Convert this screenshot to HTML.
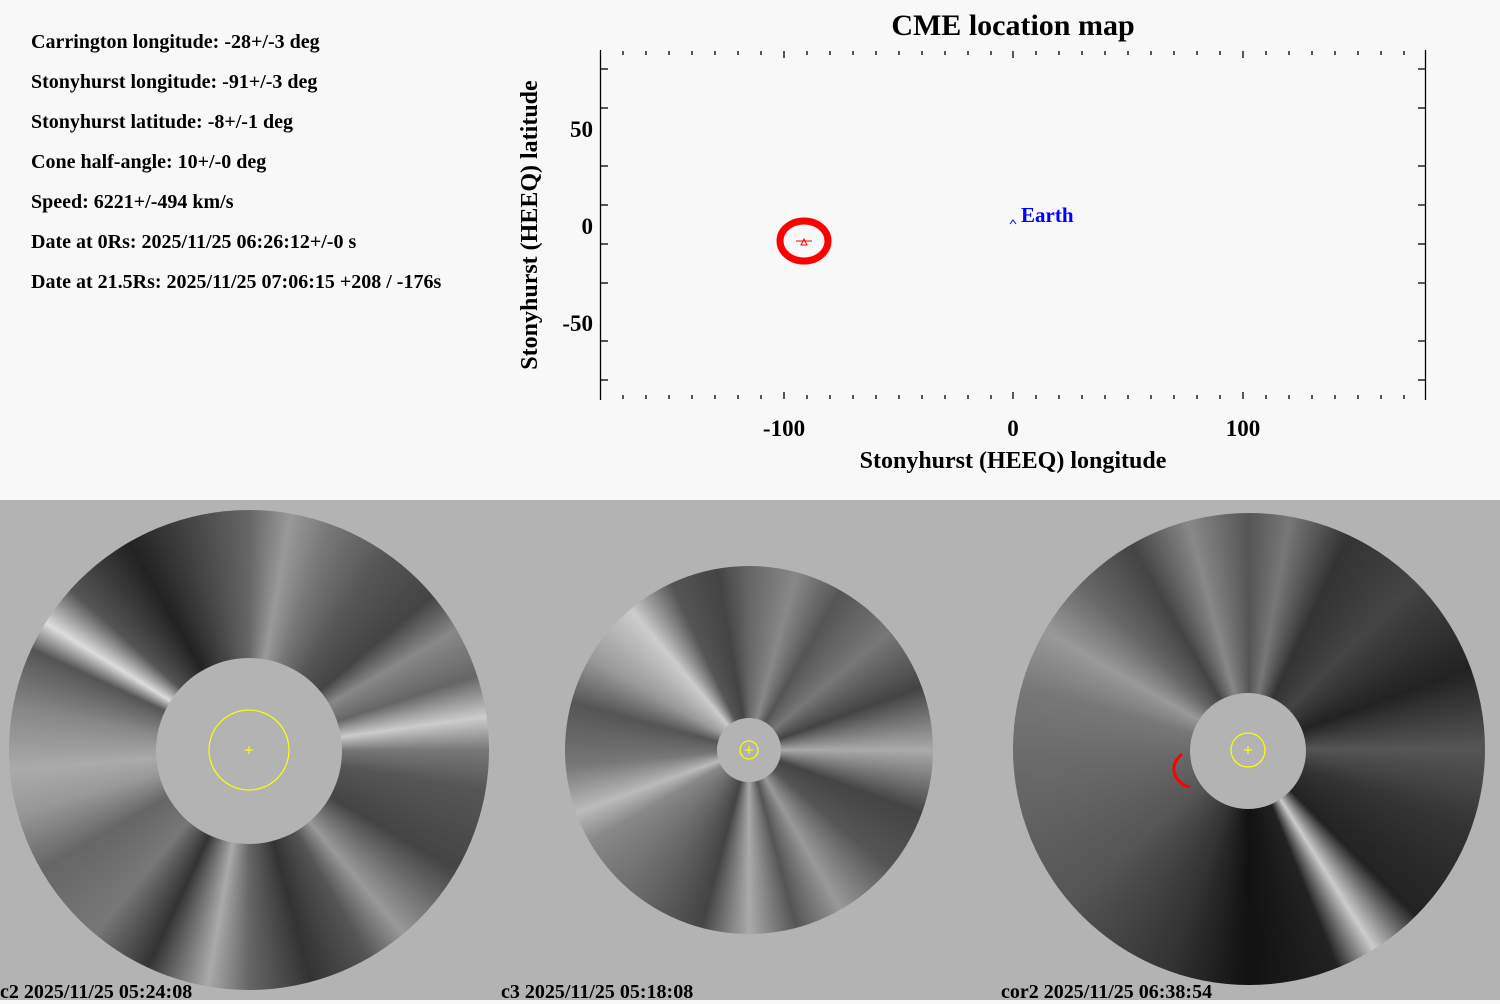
<!DOCTYPE html>
<html><head><style>
body{margin:0;width:1500px;height:1000px;background:#f8f8f8;position:relative;overflow:hidden;font-family:"Liberation Serif",serif;font-weight:bold}
.t{position:absolute;left:31px;font-size:20px;color:#000}
.bot{position:absolute;left:0;top:500px;width:1500px;height:500px;background:#b3b3b3}
.disk{position:absolute;border-radius:50%}
.occ{position:absolute;border-radius:50%;background:#b3b3b3}
.lab{position:absolute;top:981px;font-size:20px;color:#000}
</style></head><body>
<div class="t" style="top:31px">Carrington longitude: -28+/-3 deg</div>
<div class="t" style="top:71px">Stonyhurst longitude: -91+/-3 deg</div>
<div class="t" style="top:111px">Stonyhurst latitude: -8+/-1 deg</div>
<div class="t" style="top:151px">Cone half-angle: 10+/-0 deg</div>
<div class="t" style="top:191px">Speed: 6221+/-494 km/s</div>
<div class="t" style="top:231px">Date at 0Rs: 2025/11/25 06:26:12+/-0 s</div>
<div class="t" style="top:271px">Date at 21.5Rs: 2025/11/25 07:06:15 +208 / -176s</div>

<svg width="1500" height="500" style="position:absolute;left:0;top:0" font-family="Liberation Serif,serif" font-weight="bold">
<text x="1013" y="35" font-size="30" text-anchor="middle">CME location map</text>
<g stroke="#000" stroke-width="1.3">
<line x1="600.5" y1="50" x2="600.5" y2="400"/>
<line x1="1425.5" y1="50" x2="1425.5" y2="400"/>
<g>
<line x1="600" y1="69" x2="608" y2="69"/><line x1="600" y1="108" x2="608" y2="108"/>
<line x1="600" y1="166" x2="608" y2="166"/><line x1="600" y1="205" x2="608" y2="205"/>
<line x1="600" y1="244" x2="608" y2="244"/><line x1="600" y1="283" x2="608" y2="283"/>
<line x1="600" y1="341" x2="608" y2="341"/><line x1="600" y1="380" x2="608" y2="380"/>
</g>
<g transform="translate(2026,0) scale(-1,1)">
<line x1="600" y1="69" x2="608" y2="69"/><line x1="600" y1="108" x2="608" y2="108"/>
<line x1="600" y1="166" x2="608" y2="166"/><line x1="600" y1="205" x2="608" y2="205"/>
<line x1="600" y1="244" x2="608" y2="244"/><line x1="600" y1="283" x2="608" y2="283"/>
<line x1="600" y1="341" x2="608" y2="341"/><line x1="600" y1="380" x2="608" y2="380"/>
</g>
<path d="M623 51v4M646 51v4M669 51v4M692 51v4M715 51v4M738 51v4M761 51v4M784 51v7M807 51v4M830 51v4M853 51v4M876 51v4M899 51v4M922 51v4M945 51v4M968 51v4M991 51v4M1013 51v7M1036 51v4M1059 51v4M1082 51v4M1105 51v4M1128 51v4M1151 51v4M1174 51v4M1197 51v4M1220 51v4M1243 51v7M1266 51v4M1289 51v4M1312 51v4M1335 51v4M1358 51v4M1381 51v4M1404 51v4"/>
<path d="M623 399v-4M646 399v-4M669 399v-4M692 399v-4M715 399v-4M738 399v-4M761 399v-4M784 399v-7M807 399v-4M830 399v-4M853 399v-4M876 399v-4M899 399v-4M922 399v-4M945 399v-4M968 399v-4M991 399v-4M1013 399v-7M1036 399v-4M1059 399v-4M1082 399v-4M1105 399v-4M1128 399v-4M1151 399v-4M1174 399v-4M1197 399v-4M1220 399v-4M1243 399v-7M1266 399v-4M1289 399v-4M1312 399v-4M1335 399v-4M1358 399v-4M1381 399v-4M1404 399v-4"/>
</g>
<g font-size="23" text-anchor="middle">
<text x="784" y="436">-100</text><text x="1013" y="436">0</text><text x="1243" y="436">100</text>
</g>
<text x="1013" y="468" font-size="24" text-anchor="middle">Stonyhurst (HEEQ) longitude</text>
<g font-size="23" text-anchor="end">
<text x="593" y="137">50</text><text x="593" y="234">0</text><text x="593" y="331">-50</text>
</g>
<text transform="translate(537,225) rotate(-90)" font-size="24" text-anchor="middle">Stonyhurst (HEEQ) latitude</text>
<ellipse cx="804" cy="241" rx="24" ry="20" fill="none" stroke="#f00" stroke-width="7"/>
<path d="M796 241h16M801 245l3-6 3 6z" stroke="#f00" fill="none" stroke-width="1"/>
<path d="M1010 224l3-4 3 4" stroke="#00f" fill="none" stroke-width="1"/>
<text x="1021" y="222" fill="#00f" font-size="21">Earth</text>
</svg>

<div class="bot"></div>
<div class="disk" style="left:9px;top:510px;width:480px;height:480px;background:conic-gradient(from 0deg,#666,#999 10deg,#777 20deg,#555 35deg,#444 50deg,#888 60deg,#666 72deg,#ccc 82deg,#777 90deg,#555 100deg,#444 120deg,#999 140deg,#555 150deg,#333 165deg,#666 180deg,#aaa 190deg,#333 205deg,#777 220deg,#666 240deg,#999 255deg,#aaa 265deg,#888 280deg,#555 295deg,#ddd 302deg,#555 312deg,#222 330deg,#444 345deg,#666)"></div>
<div class="occ" style="left:156px;top:658px;width:186px;height:186px"></div>
<div class="disk" style="left:565px;top:566px;width:368px;height:368px;background:conic-gradient(from 0deg,#666,#888 15deg,#555 30deg,#777 50deg,#444 70deg,#aaa 90deg,#444 110deg,#555 130deg,#999 150deg,#555 165deg,#aaa 180deg,#444 195deg,#666 215deg,#888 240deg,#bbb 250deg,#777 265deg,#555 285deg,#999 300deg,#ccc 320deg,#555 335deg,#444 350deg,#666)"></div>
<div class="occ" style="left:717px;top:718px;width:64px;height:64px"></div>
<div class="disk" style="left:1013px;top:513px;width:472px;height:472px;background:conic-gradient(from 0deg,#555,#777 10deg,#333 25deg,#444 45deg,#222 70deg,#555 90deg,#333 110deg,#222 135deg,#ccc 148deg,#222 158deg,#111 180deg,#333 200deg,#555 230deg,#666 260deg,#777 285deg,#999 300deg,#666 315deg,#444 330deg,#888 345deg,#555)"></div>
<div class="occ" style="left:1190px;top:693px;width:116px;height:116px"></div>
<svg width="1500" height="1000" style="position:absolute;left:0;top:0">
<g stroke="#ff0" fill="none" stroke-width="1.2">
<circle cx="249" cy="750" r="40"/><path d="M245 750h8M249 746v8"/>
<circle cx="749" cy="750" r="9"/><path d="M745 750h8M749 746v8"/>
<circle cx="1248" cy="750" r="17"/><path d="M1244 750h8M1248 746v8"/>
</g>
<path d="M1182 754q-14 12 -4 26q5 6 12 7" stroke="#f00" stroke-width="3" fill="none"/>
</svg>
<div class="lab" style="left:0">c2 2025/11/25 05:24:08</div>
<div class="lab" style="left:501px">c3 2025/11/25 05:18:08</div>
<div class="lab" style="left:1001px">cor2 2025/11/25 06:38:54</div>
</body></html>
